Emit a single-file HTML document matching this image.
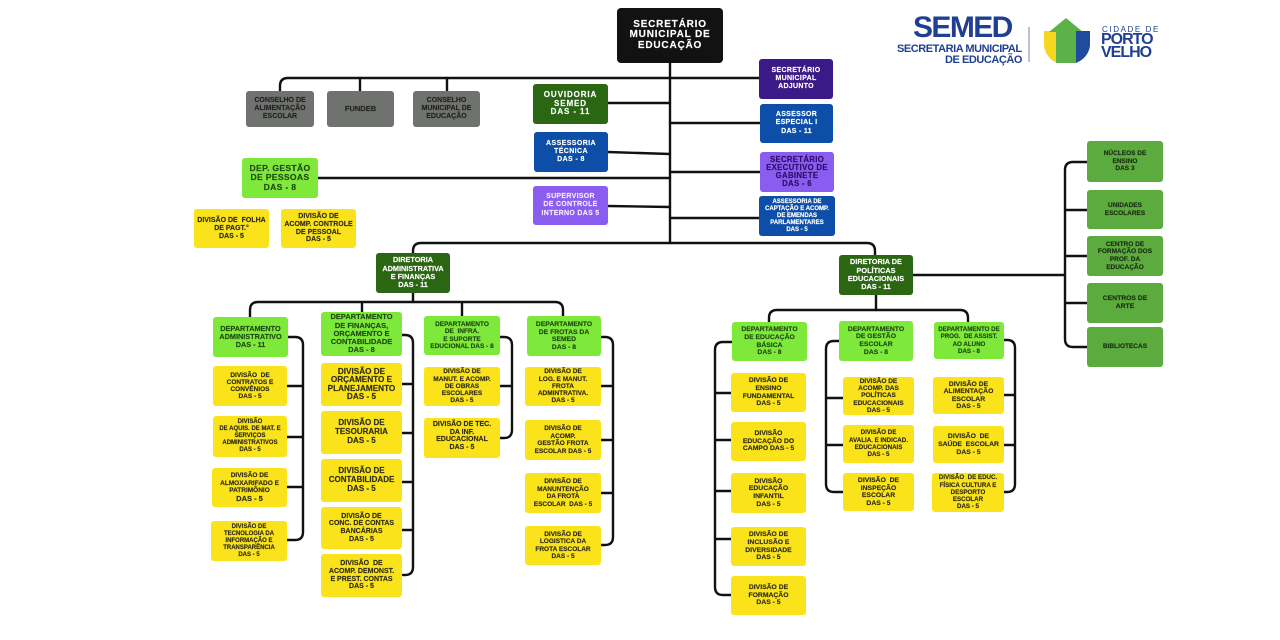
<!DOCTYPE html>
<html><head><meta charset="utf-8">
<style>
*{margin:0;padding:0;box-sizing:border-box}
body{width:1280px;height:640px;background:#fff;overflow:hidden}
#c{position:relative;width:1280px;height:640px;background:#fff;font-family:"Liberation Sans",sans-serif}
.b{position:absolute;display:flex;align-items:center;justify-content:center;text-align:center;border-radius:3px;font-weight:bold;white-space:nowrap;font-size:7px;line-height:7.7px;-webkit-text-stroke:0.15px currentColor}
.b>div{display:block}
.k{background:#121212;color:#fff}
.g{background:#6f726e;color:#232323}
.dg{background:#2b6613;color:#fff}
.bl{background:#0d4ea9;color:#fff}
.dp{background:#3a1a86;color:#fff}
.pu{background:#8a5cf0;color:#f2eaff}
.pu2{background:#8a5cf0;color:#2a0f66}
.li{background:#7fe93b;color:#1f4a10}
.ye{background:#fae31a;color:#2f2d16}
.mg{background:#5cab3f;color:#1b2e12}
svg{position:absolute;left:0;top:0}
.t{position:absolute;font-family:"Liberation Sans",sans-serif;color:#1f3f93;white-space:nowrap}
</style></head><body><div id="c">
<svg width="1280" height="640" viewBox="0 0 1280 640">
<g fill="none" stroke="#111" stroke-width="2.4" stroke-linecap="round" stroke-linejoin="round">
<path d="M670 63V243"/>
<path d="M670 78H288Q280 78 280 86V91"/>
<path d="M360 78V91M447 78V91M670 78H759"/>
<path d="M608 103H670M608 152L670 154M318 178H670M608 206L670 207"/>
<path d="M670 123H760M670 172H760M670 218H759"/>
<path d="M413 253V251Q413 243 421 243H867Q875 243 875 251V255"/>
<path d="M913 275H1065"/>
<path d="M1087 162H1073Q1065 162 1065 170V339Q1065 347 1073 347H1087M1065 210H1087M1065 256H1087M1065 303H1087"/>
<path d="M413 293V302"/>
<path d="M250 317V310Q250 302 258 302H555Q563 302 563 310V316M362 302V312M462 302V316"/>
<path d="M288 337H295Q303 337 303 345V532Q303 540 295 540H287M287 386H303M287 437H303M287 487H303"/>
<path d="M402 335H405Q413 335 413 343V567Q413 575 405 575H403M402 384H413M402 433H413M402 482H413M402 530H413"/>
<path d="M500 337H504Q512 337 512 345V430Q512 438 504 438H500M500 386H512"/>
<path d="M601 337H605Q613 337 613 345V537Q613 545 605 545H601M601 386H613M601 440H613M601 493H613"/>
<path d="M876 295V310"/>
<path d="M769 322V318Q769 310 777 310H960Q968 310 968 318V322"/>
<path d="M732 342H723Q715 342 715 350V587Q715 595 723 595H731M715 393H731M715 440H731M715 491H731M715 539H731"/>
<path d="M839 341H834Q826 341 826 349V484Q826 492 834 492H843M826 398H843M826 445H843"/>
<path d="M1004 340H1007Q1015 340 1015 348V484Q1015 492 1007 492H1004M1004 395H1015M1004 445H1015"/>
</g>
<line x1="1029" y1="27" x2="1029" y2="62" stroke="#8b97b3" stroke-width="1.2"/>
<path d="M1044 31H1057V63Q1046 58 1044 46Z" fill="#f5d623"/>
<path d="M1049 32L1066 18L1083 32H1076V63H1056V32Z" fill="#5cb248"/>
<path d="M1076 31H1090V46Q1088 58 1076 63Z" fill="#1f4c9c"/>
</svg>

<div class="t" style="left:913px;top:10px;font-size:30px;font-weight:bold;letter-spacing:-1.6px;line-height:36px">SEMED</div>
<div class="t" style="left:897px;top:43px;font-size:11px;font-weight:bold;letter-spacing:-0.45px;line-height:12px">SECRETARIA MUNICIPAL</div>
<div class="t" style="left:945px;top:54px;font-size:11px;font-weight:bold;letter-spacing:-0.45px;line-height:12px">DE EDUCAÇÃO</div>
<div class="t" style="left:1102px;top:25px;font-size:8px;letter-spacing:1.6px;line-height:9px">CIDADE DE</div>
<div class="t" style="left:1101px;top:33px;font-size:16px;font-weight:bold;letter-spacing:-1px;line-height:14px">PORTO</div>
<div class="t" style="left:1101px;top:46px;font-size:16px;font-weight:bold;letter-spacing:-1px;line-height:14px">VELHO</div>

<div class="b k" style="left:617px;top:8px;width:106px;height:55px;font-size:10px;line-height:10.5px;letter-spacing:0.8px;border-radius:4px"><div>SECRETÁRIO<br>MUNICIPAL DE<br>EDUCAÇÃO</div></div>

<div class="b g" style="left:246px;top:91px;width:68px;height:36px"><div>CONSELHO DE<br>ALIMENTAÇÃO<br>ESCOLAR</div></div>
<div class="b g" style="left:327px;top:91px;width:67px;height:36px;font-size:7.5px"><div>FUNDEB</div></div>
<div class="b g" style="left:413px;top:91px;width:67px;height:36px"><div>CONSELHO<br>MUNICIPAL DE<br>EDUCAÇÃO</div></div>

<div class="b dg" style="left:533px;top:84px;width:75px;height:40px;font-size:8px;line-height:8.7px;letter-spacing:0.9px"><div>OUVIDORIA<br>SEMED<br>DAS - 11</div></div>
<div class="b bl" style="left:534px;top:132px;width:74px;height:40px;line-height:8.3px;letter-spacing:0.4px"><div>ASSESSORIA<br>TÉCNICA<br>DAS - 8</div></div>
<div class="b li" style="left:242px;top:158px;width:76px;height:40px;font-size:8.6px;line-height:9.2px;letter-spacing:0.3px"><div>DEP. GESTÃO<br>DE PESSOAS<br>DAS - 8</div></div>
<div class="b pu" style="left:533px;top:186px;width:75px;height:39px;line-height:8.3px;letter-spacing:0.3px"><div>SUPERVISOR<br>DE CONTROLE<br>INTERNO DAS 5</div></div>
<div class="b ye" style="left:194px;top:209px;width:75px;height:39px;line-height:8px"><div>DIVISÃO DE &nbsp;FOLHA<br>DE PAGT.°<br>DAS - 5</div></div>
<div class="b ye" style="left:281px;top:209px;width:75px;height:39px;line-height:7.8px"><div>DIVISÃO DE<br>ACOMP. CONTROLE<br>DE PESSOAL<br>DAS - 5</div></div>

<div class="b dp" style="left:759px;top:59px;width:74px;height:40px;line-height:8px;letter-spacing:0.3px"><div>SECRETÁRIO<br>MUNICIPAL<br>ADJUNTO</div></div>
<div class="b bl" style="left:760px;top:104px;width:73px;height:39px;line-height:8.3px;letter-spacing:0.3px"><div>ASSESSOR<br>ESPECIAL I<br>DAS - 11</div></div>
<div class="b pu2" style="left:760px;top:152px;width:74px;height:40px;font-size:7.8px;line-height:8px;letter-spacing:0.3px"><div>SECRETÁRIO<br>EXECUTIVO DE<br>GABINETE<br>DAS - 6</div></div>
<div class="b bl" style="left:759px;top:196px;width:76px;height:40px;font-size:6px;line-height:7px"><div>ASSESSORIA DE<br>CAPTAÇÃO E ACOMP.<br>DE EMENDAS<br>PARLAMENTARES<br>DAS - 5</div></div>

<div class="b dg" style="left:376px;top:253px;width:74px;height:40px;font-size:7.3px;line-height:8.3px"><div>DIRETORIA<br>ADMINISTRATIVA<br>E FINANÇAS<br>DAS - 11</div></div>
<div class="b dg" style="left:839px;top:255px;width:74px;height:40px;font-size:7.3px;line-height:8.3px"><div>DIRETORIA DE<br>POLÍTICAS<br>EDUCACIONAIS<br>DAS - 11</div></div>

<div class="b mg" style="left:1087px;top:141px;width:76px;height:41px;font-size:6.5px"><div>NÚCLEOS DE<br>ENSINO<br>DAS 3</div></div>
<div class="b mg" style="left:1087px;top:190px;width:76px;height:39px;font-size:6.5px"><div>UNIDADES<br>ESCOLARES</div></div>
<div class="b mg" style="left:1087px;top:236px;width:76px;height:40px;font-size:6.5px"><div>CENTRO DE<br>FORMAÇÃO DOS<br>PROF. DA<br>EDUCAÇÃO</div></div>
<div class="b mg" style="left:1087px;top:283px;width:76px;height:40px;font-size:6.8px"><div>CENTROS DE<br>ARTE</div></div>
<div class="b mg" style="left:1087px;top:327px;width:76px;height:40px;font-size:6.5px"><div>BIBLIOTECAS</div></div>

<div class="b li" style="left:213px;top:317px;width:75px;height:40px;font-size:7.3px"><div>DEPARTAMENTO<br>ADMINISTRATIVO<br>DAS - 11</div></div>
<div class="b ye" style="left:213px;top:366px;width:74px;height:40px;font-size:6.5px;line-height:7px"><div>DIVISÃO &nbsp;DE<br>CONTRATOS E<br>CONVÊNIOS<br>DAS - 5</div></div>
<div class="b ye" style="left:213px;top:416px;width:74px;height:41px;font-size:6px;line-height:7px"><div>DIVISÃO<br>DE AQUIS. DE MAT. E<br>SERVIÇOS<br>ADMINISTRATIVOS<br>DAS - 5</div></div>
<div class="b ye" style="left:212px;top:468px;width:75px;height:39px;font-size:6.5px;line-height:7.5px"><div>DIVISÃO DE<br>ALMOXARIFADO E<br>PATRIMÔNIO<br><span style="font-size:7.5px">DAS - 5</span></div></div>
<div class="b ye" style="left:211px;top:521px;width:76px;height:40px;font-size:6px;line-height:7px"><div>DIVISÃO DE<br>TECNOLOGIA DA<br>INFORMAÇÃO E<br>TRANSPARÊNCIA<br>DAS - 5</div></div>

<div class="b li" style="left:321px;top:312px;width:81px;height:44px;font-size:7.5px;line-height:8.3px"><div>DEPARTAMENTO<br>DE FINANÇAS,<br>ORÇAMENTO E<br>CONTABILIDADE<br>DAS - 8</div></div>
<div class="b ye" style="left:321px;top:363px;width:81px;height:43px;font-size:8.2px;line-height:8.5px"><div>DIVISÃO DE<br>ORÇAMENTO E<br>PLANEJAMENTO<br>DAS - 5</div></div>
<div class="b ye" style="left:321px;top:411px;width:81px;height:43px;font-size:8px;line-height:8.7px"><div>DIVISÃO DE<br>TESOURARIA<br>DAS - 5</div></div>
<div class="b ye" style="left:321px;top:459px;width:81px;height:43px;font-size:8px;line-height:8.7px"><div>DIVISÃO DE<br>CONTABILIDADE<br>DAS - 5</div></div>
<div class="b ye" style="left:321px;top:507px;width:81px;height:42px;line-height:7.7px"><div>DIVISÃO DE<br>CONC. DE CONTAS<br>BANCÁRIAS<br>DAS - 5</div></div>
<div class="b ye" style="left:321px;top:554px;width:81px;height:43px;line-height:7.7px"><div>DIVISÃO &nbsp;DE<br>ACOMP. DEMONST.<br>E PREST. CONTAS<br>DAS - 5</div></div>

<div class="b li" style="left:424px;top:316px;width:76px;height:39px;font-size:6.5px;line-height:7.5px"><div>DEPARTAMENTO<br>DE &nbsp;INFRA.<br>E SUPORTE<br>EDUCIONAL DAS - 8</div></div>
<div class="b ye" style="left:424px;top:367px;width:76px;height:39px;font-size:6.5px;line-height:7.3px"><div>DIVISÃO DE<br>MANUT. E ACOMP.<br>DE OBRAS<br>ESCOLARES<br>DAS - 5</div></div>
<div class="b ye" style="left:424px;top:418px;width:76px;height:40px;line-height:7.7px;align-items:flex-start;padding-top:3px"><div>DIVISÃO DE TEC.<br>DA INF.<br>EDUCACIONAL<br>DAS - 5</div></div>

<div class="b li" style="left:527px;top:316px;width:74px;height:40px;font-size:6.8px;line-height:7.5px"><div>DEPARTAMENTO<br>DE FROTAS DA<br>SEMED<br>DAS - 8</div></div>
<div class="b ye" style="left:525px;top:367px;width:76px;height:39px;font-size:6.5px;line-height:7.3px"><div>DIVISÃO DE<br>LOG. E MANUT.<br>FROTA<br>ADMINTRATIVA.<br>DAS - 5</div></div>
<div class="b ye" style="left:525px;top:420px;width:76px;height:40px;font-size:6.5px;line-height:7.5px"><div>DIVISÃO DE<br>ACOMP.<br>GESTÃO FROTA<br>ESCOLAR DAS - 5</div></div>
<div class="b ye" style="left:525px;top:473px;width:76px;height:40px;font-size:6.5px;line-height:7.5px"><div>DIVISÃO DE<br>MANUNTENÇÃO<br>DA FROTA<br>ESCOLAR &nbsp;DAS - 5</div></div>
<div class="b ye" style="left:525px;top:526px;width:76px;height:39px;font-size:6.5px;line-height:7.5px"><div>DIVISÃO DE<br>LOGISTICA DA<br>FROTA ESCOLAR<br>DAS - 5</div></div>

<div class="b li" style="left:732px;top:322px;width:75px;height:39px;font-size:6.8px;line-height:7.7px"><div>DEPARTAMENTO<br>DE EDUCAÇÃO<br>BÁSICA<br>DAS - 8</div></div>
<div class="b ye" style="left:731px;top:373px;width:75px;height:39px;font-size:6.8px;line-height:7.7px"><div>DIVISÃO DE<br>ENSINO<br>FUNDAMENTAL<br>DAS - 5</div></div>
<div class="b ye" style="left:731px;top:422px;width:75px;height:39px;font-size:6.8px;line-height:7.7px"><div>DIVISÃO<br>EDUCAÇÃO DO<br>CAMPO DAS - 5</div></div>
<div class="b ye" style="left:731px;top:473px;width:75px;height:40px;font-size:6.8px;line-height:7.7px"><div>DIVISÃO<br>EDUCAÇÃO<br>INFANTIL<br>DAS - 5</div></div>
<div class="b ye" style="left:731px;top:527px;width:75px;height:39px;font-size:6.8px;line-height:7.7px"><div>DIVISÃO DE<br>INCLUSÃO E<br>DIVERSIDADE<br>DAS - 5</div></div>
<div class="b ye" style="left:731px;top:576px;width:75px;height:39px;font-size:6.8px;line-height:7.7px"><div>DIVISÃO DE<br>FORMAÇÃO<br>DAS - 5</div></div>

<div class="b li" style="left:839px;top:321px;width:74px;height:40px;font-size:6.8px;line-height:7.7px"><div>DEPARTAMENTO<br>DE GESTÃO<br>ESCOLAR<br>DAS - 8</div></div>
<div class="b ye" style="left:843px;top:377px;width:71px;height:38px;font-size:6.5px;line-height:7.2px"><div>DIVISÃO DE<br>ACOMP. DAS<br>POLÍTICAS<br>EDUCACIONAIS<br>DAS - 5</div></div>
<div class="b ye" style="left:843px;top:425px;width:71px;height:38px;font-size:6.2px;line-height:7.3px"><div>DIVISÃO DE<br>AVALIA. E INDICAD.<br>EDUCACIONAIS<br>DAS - 5</div></div>
<div class="b ye" style="left:843px;top:473px;width:71px;height:38px;font-size:6.8px;line-height:7.5px"><div>DIVISÃO &nbsp;DE<br>INSPEÇÃO<br>ESCOLAR<br>DAS - 5</div></div>

<div class="b li" style="left:934px;top:322px;width:70px;height:37px;font-size:6.2px;line-height:7.3px"><div>DEPARTAMENTO DE<br>PROG. &nbsp;DE ASSIST.<br>AO ALUNO<br>DAS - 8</div></div>
<div class="b ye" style="left:933px;top:377px;width:71px;height:37px;font-size:6.8px;line-height:7.5px"><div>DIVISÃO DE<br>ALIMENTAÇÃO<br>ESCOLAR<br>DAS - 5</div></div>
<div class="b ye" style="left:933px;top:426px;width:71px;height:37px;font-size:6.8px;line-height:8px"><div>DIVISÃO &nbsp;DE<br>SAÚDE &nbsp;ESCOLAR<br>DAS - 5</div></div>
<div class="b ye" style="left:932px;top:473px;width:72px;height:39px;font-size:6.2px;line-height:7.3px"><div>DIVISÃO &nbsp;DE EDUC.<br>FÍSICA CULTURA E<br>DESPORTO<br>ESCOLAR<br>DAS - 5</div></div>
</div></body></html>
